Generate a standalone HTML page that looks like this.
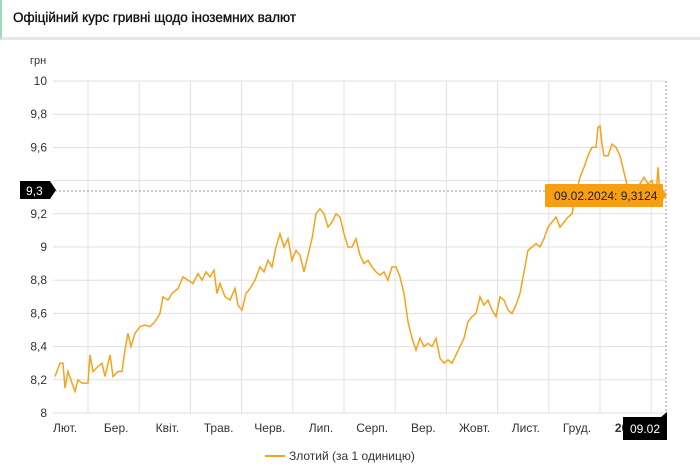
<!DOCTYPE html>
<html><head><meta charset="utf-8"><style>
body{margin:0;width:700px;height:467px;background:#fff;font-family:"Liberation Sans",sans-serif;overflow:hidden;position:relative}
.hdr{position:absolute;left:0;top:0;width:700px;height:40px;border-left:2px solid #9fd9b9;box-sizing:border-box;border-bottom:3px solid #e6e6e6}
.hdr span{position:absolute;left:11px;top:10px;font-size:13.5px;color:#111;-webkit-text-stroke:0.35px #111}
</style></head><body>
<div class="hdr"><span>Офіційний курс гривні щодо іноземних валют</span></div>
<svg width="700" height="467" style="position:absolute;left:0;top:0">
<g id="grid" stroke="#e0e0e0" stroke-width="1"></g>
<g font-size="12" fill="#333" id="lbl"></g>
<text x="30" y="64" font-size="11" fill="#333">грн</text>
<line x1="55" y1="191" x2="666" y2="191" stroke="#999" stroke-dasharray="2,2"/>
<line x1="666" y1="81" x2="666" y2="413" stroke="#999" stroke-dasharray="2,2"/>
<polyline id="ln" fill="none" stroke="#f7a21b" stroke-width="1.5"/>
<path d="M20 181H50L56 190L50 199H20Z" fill="#000"/>
<text x="26" y="195" font-size="12" fill="#fff">9,3</text>
<rect x="545" y="184" width="118" height="23" fill="#f89e12" rx="1"/>
<path d="M663 190L667 195L663 200Z" fill="#f89e12"/>
<text x="554" y="200" font-size="12" fill="#222">09.02.2024: 9,3124</text>
<path d="M623 417H661L667 412V440H623Z" fill="#000"/>
<text x="630" y="433" font-size="12" fill="#fff">09.02</text>
<line x1="265" y1="456" x2="285" y2="456" stroke="#f7a21b" stroke-width="2"/>
<text x="289" y="460" font-size="12" fill="#333">Злотий (за 1 одиницю)</text>
</svg>
<script>
var NS="http://www.w3.org/2000/svg",g=document.getElementById("grid"),l=document.getElementById("lbl");
function el(p,t,a,tx){var e=document.createElementNS(NS,t);for(var k in a)e.setAttribute(k,a[k]);if(tx)e.textContent=tx;p.appendChild(e);return e}
var Y=function(v){return 413-(v-8)*166};
[[10,"10"],[9.8,"9,8"],[9.6,"9,6"],[9.4,"9,4"],[9.2,"9,2"],[9,"9"],[8.8,"8,8"],[8.6,"8,6"],[8.4,"8,4"],[8.2,"8,2"],[8,"8"]].forEach(function(d){var y=Y(d[0]);el(g,"line",{x1:53,x2:666,y1:y,y2:y});if(d[0]!=9.4)el(l,"text",{x:47,y:y+4,"text-anchor":"end"},d[1])});
for(var i=0;i<12;i++){var x=88+i*51.2;el(g,"line",{x1:x,x2:x,y1:81,y2:413})}
["Лют.","Бер.","Квіт.","Трав.","Черв.","Лип.","Серп.","Вер.","Жовт.","Лист.","Груд.","2024"].forEach(function(t,i){var a={x:65+i*51.2,y:432,"text-anchor":"middle"};if(i==11)a["font-weight"]="bold";el(l,"text",a,t)});
var d=[55,8.22,60,8.3,63,8.3,65,8.15,68,8.25,72,8.18,75,8.13,78,8.2,82,8.18,88,8.18,90,8.35,93,8.25,98,8.28,102,8.3,105,8.22,110,8.35,113,8.22,118,8.25,122,8.25,125,8.38,128,8.48,131,8.4,135,8.48,140,8.52,145,8.53,150,8.52,155,8.55,160,8.6,163,8.7,168,8.68,172,8.72,178,8.75,183,8.82,188,8.8,193,8.78,198,8.84,202,8.8,206,8.85,210,8.82,214,8.86,217,8.72,220,8.78,225,8.7,230,8.68,235,8.75,238,8.65,242,8.62,246,8.72,250,8.75,255,8.8,260,8.88,264,8.85,268,8.92,272,8.88,276,9.0,280,9.08,284,9.0,288,9.05,292,8.92,296,8.98,300,8.95,304,8.85,308,8.95,312,9.05,316,9.2,320,9.23,324,9.2,328,9.12,332,9.15,336,9.2,340,9.18,344,9.08,348,9.0,352,9.0,356,9.05,360,8.95,364,8.9,368,8.92,372,8.88,376,8.85,380,8.83,384,8.85,388,8.8,392,8.88,396,8.88,400,8.82,404,8.72,408,8.55,412,8.45,416,8.38,420,8.45,424,8.4,428,8.42,432,8.4,436,8.45,440,8.33,444,8.3,448,8.32,452,8.3,456,8.35,460,8.4,464,8.45,468,8.55,472,8.58,476,8.6,480,8.7,484,8.65,488,8.68,492,8.62,496,8.58,500,8.7,504,8.68,508,8.62,512,8.6,516,8.65,520,8.72,524,8.85,528,8.98,532,9.0,536,9.02,540,9.0,544,9.05,548,9.12,552,9.15,556,9.18,560,9.12,564,9.15,568,9.18,572,9.2,576,9.32,580,9.42,584,9.48,588,9.55,592,9.6,596,9.6,598,9.72,600,9.73,602,9.62,604,9.55,608,9.55,612,9.62,616,9.6,620,9.55,624,9.45,628,9.35,632,9.3,636,9.35,640,9.38,644,9.42,648,9.38,652,9.4,656,9.3,658,9.48,660,9.31];
var p=[];for(var i=0;i<d.length;i+=2)p.push(d[i]+","+Y(d[i+1]).toFixed(1));
document.getElementById("ln").setAttribute("points",p.join(" "));
</script>
</body></html>
